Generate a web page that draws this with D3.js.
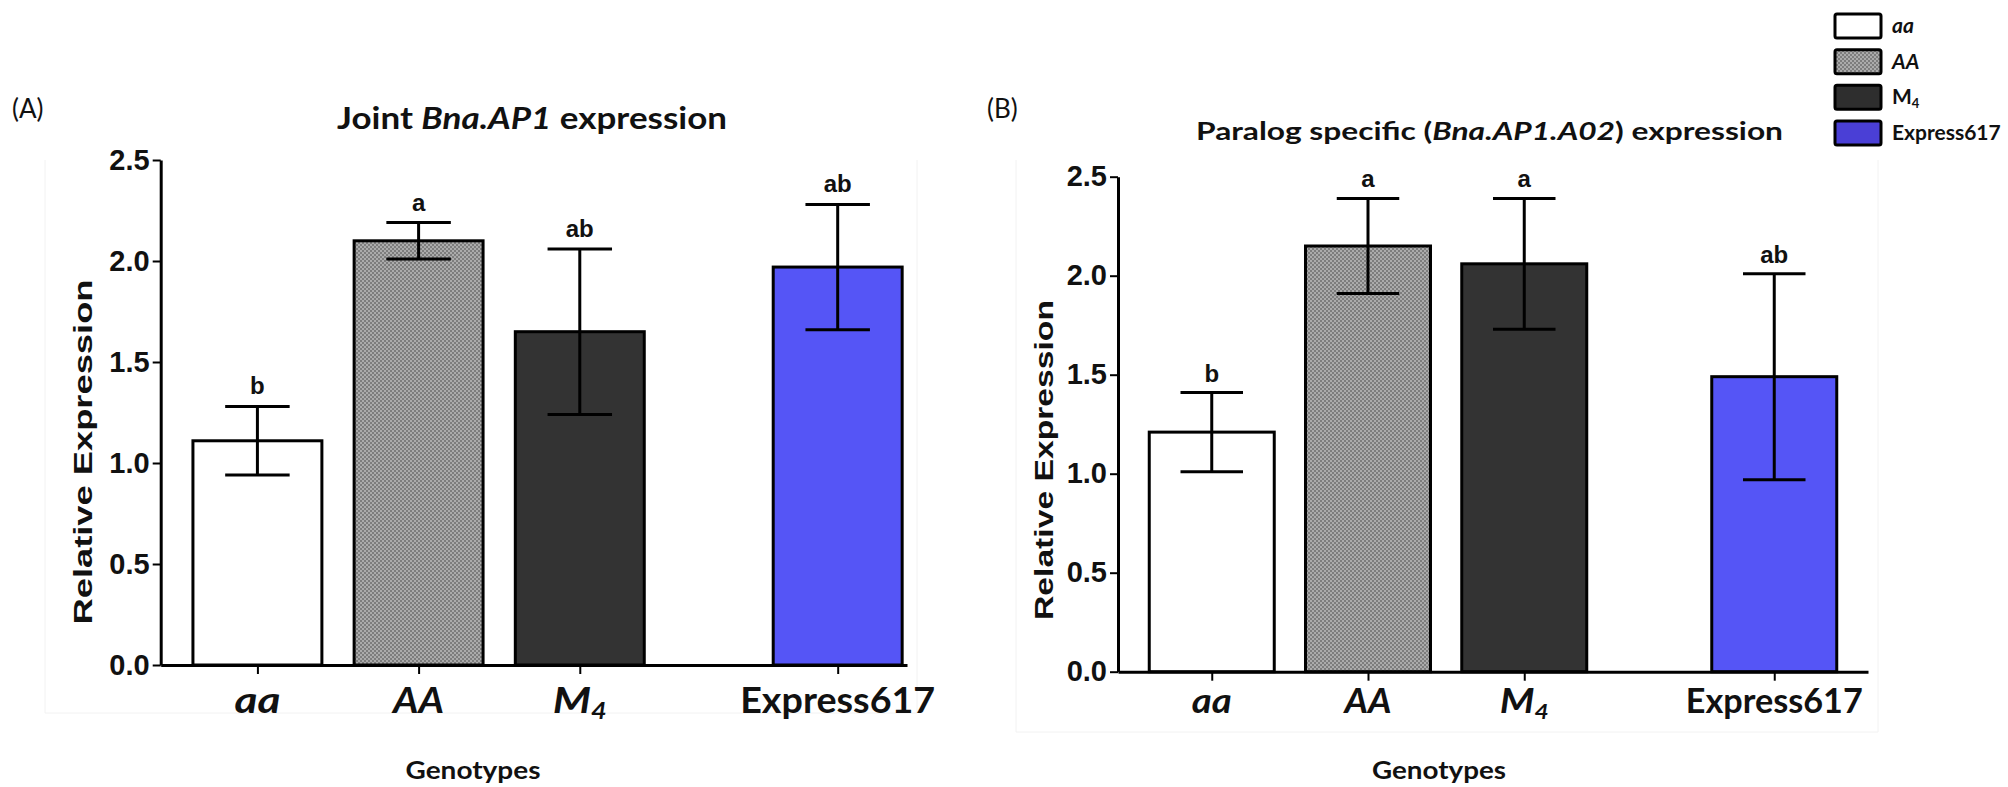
<!DOCTYPE html>
<html><head><meta charset="utf-8">
<script src="https://cdn.jsdelivr.net/npm/d3@7"></script>
<style>body{margin:0;background:#fff}svg{display:block}</style>
</head><body>
<svg id="chart" width="2008" height="787"></svg>
<script>
// ---------------- data ----------------
const categories = ["aa", "AA", "M4", "Express617"];
const jointMean = [1.11, 2.10, 1.65, 1.97];
const jointErr = [0.17, 0.09, 0.41, 0.31];
const jointLetters = ["b", "a", "ab", "ab"];
const paralogMean = [1.21, 2.15, 2.06, 1.49];
const paralogErr = [0.20, 0.24, 0.33, 0.52];
const paralogLetters = ["b", "a", "a", "ab"];
const yTicks = [0, 0.5, 1.0, 1.5, 2.0, 2.5];
const legendLabels = ["aa", "AA", "M4", "Express617"];
const yTitle = "Relative Expression";
const xTitle = "Genotypes";

// ---------------- styling ----------------
const CAL = "Lato, 'Open Sans', sans-serif";
const ARI = "'Liberation Sans', Arial, sans-serif";
const fills = {aa: "#ffffff", AA: "url(#check)", M4: "#333333", Express617: "#5555f6"};
const legendFills = {aa: "#ffffff", AA: "url(#check)", M4: "#2e2e2e", Express617: "#4a3fd6"};

const svg = d3.select("#chart");
const defs = svg.append("defs");
const pat = defs.append("pattern").attr("id", "check").attr("patternUnits", "userSpaceOnUse")
  .attr("width", 4).attr("height", 4);
pat.append("rect").attr("width", 4).attr("height", 4).attr("fill", "#ababab");
pat.append("rect").attr("width", 2).attr("height", 2).attr("fill", "#7d7d7d");
pat.append("rect").attr("x", 2).attr("y", 2).attr("width", 2).attr("height", 2).attr("fill", "#7d7d7d");

// slot of each category along the x axis (last group separated by a gap)
const slotOf = (i) => i < 3 ? i : 3.6;

function catParts(c) {
  if (c === "aa") return [{t: "aa", it: true}];
  if (c === "AA") return [{t: "AA", it: true}];
  if (c === "M4") return [{t: "M", it: true}, {t: "4", it: true, sub: true}];
  return [{t: c, it: false}];
}
function legParts(c) {
  if (c === "aa") return [{t: "aa", it: true}];
  if (c === "AA") return [{t: "AA", it: true}];
  if (c === "M4") return [{t: "M", it: false}, {t: "4", it: false, sub: true}];
  return [{t: c, it: false}];
}
function addParts(textSel, parts, subSize) {
  parts.forEach(p => {
    const ts = textSel.append("tspan").text(p.t).attr("font-style", p.it ? "italic" : "normal");
    if (p.sub) ts.attr("font-size", subSize).attr("baseline-shift", "-28%");
  });
}
function fit(textSel, w) {
  if (w) textSel.attr("textLength", w).attr("lengthAdjust", "spacingAndGlyphs");
}

const panels = [
  {
    tag: "(A)", tagX: 12, tagY: 118,
    title: [{t: "Joint ", it: false}, {t: "Bna.AP1", it: true}, {t: " expression", it: false}],
    titleCx: 532, titleY: 129, titleSize: 30, titleW: 390,
    means: jointMean, errs: jointErr, letters: jointLetters, letterGap: 12,
    xRange: [160.7, 907], xDomain: [-0.6, 4.03], yRange: [665, 160],
    yLabX: 92, yLabCy: 452, yLabLen: 345,
    catY: 713, catSize: 36, catW: [46, 51, 54, 195],
    gCx: 473, gY: 779, gW: 135,
    frame: [45, 917, 713]
  },
  {
    tag: "(B)", tagX: 987, tagY: 118,
    title: [{t: "Paralog specific (", it: false}, {t: "Bna.AP1.A02", it: true}, {t: ") expression", it: false}],
    titleCx: 1489.5, titleY: 140, titleSize: 25, titleW: 587,
    means: paralogMean, errs: paralogErr, letters: paralogLetters, letterGap: 11,
    xRange: [1118, 1868], xDomain: [-0.6, 4.2], yRange: [671.7, 176.7],
    yLabX: 1052.7, yLabCy: 460, yLabLen: 320,
    catY: 713, catSize: 35, catW: [40, 47, 49, 177],
    gCx: 1439, gY: 779, gW: 134,
    frame: [1016, 1878, 732]
  }
];

panels.forEach(P => {
  const g = svg.append("g");
  const [fl, fr, fb] = P.frame;
  g.append("path").attr("d", `M${fl},160V${fb}H${fr}V160`)
    .attr("fill", "none").attr("stroke", "#f2f2f2").attr("stroke-width", 1);

  const x = d3.scaleLinear().domain(P.xDomain).range(P.xRange);
  const y = d3.scaleLinear().domain([0, 2.5]).range(P.yRange);
  const bw = (x(1) - x(0)) * 0.8;

  g.append("text").attr("x", P.tagX).attr("y", P.tagY).text(P.tag)
    .attr("font-family", CAL).attr("font-size", 26).attr("fill", "#111");

  const tt = g.append("text").attr("x", P.titleCx).attr("y", P.titleY).attr("text-anchor", "middle")
    .attr("font-family", CAL).attr("font-weight", "bold").attr("font-size", P.titleSize).attr("fill", "#111");
  addParts(tt, P.title);
  fit(tt, P.titleW);

  const data = categories.map((c, i) => ({c, i, m: P.means[i], e: P.errs[i], l: P.letters[i]}));

  g.selectAll("rect.bar").data(data).join("rect").attr("class", "bar")
    .attr("x", d => x(slotOf(d.i)) - bw / 2).attr("width", bw)
    .attr("y", d => y(d.m)).attr("height", d => y(0) - y(d.m))
    .attr("fill", d => fills[d.c]).attr("stroke", "#000").attr("stroke-width", 3);

  const eb = g.selectAll("g.err").data(data).join("g").attr("class", "err")
    .attr("stroke", "#000").attr("stroke-width", 3);
  eb.append("line").attr("x1", d => x(slotOf(d.i))).attr("x2", d => x(slotOf(d.i)))
    .attr("y1", d => y(d.m - d.e)).attr("y2", d => y(d.m + d.e));
  eb.append("line").attr("x1", d => x(slotOf(d.i)) - bw / 4).attr("x2", d => x(slotOf(d.i)) + bw / 4)
    .attr("y1", d => y(d.m + d.e)).attr("y2", d => y(d.m + d.e));
  eb.append("line").attr("x1", d => x(slotOf(d.i)) - bw / 4).attr("x2", d => x(slotOf(d.i)) + bw / 4)
    .attr("y1", d => y(d.m - d.e)).attr("y2", d => y(d.m - d.e));

  g.selectAll("text.let").data(data).join("text").attr("class", "let")
    .attr("x", d => x(slotOf(d.i))).attr("y", d => y(d.m + d.e) - P.letterGap)
    .attr("text-anchor", "middle").attr("font-family", ARI).attr("font-weight", "bold")
    .attr("font-size", 24).attr("fill", "#111").text(d => d.l);

  const ya = g.append("g").attr("transform", `translate(${P.xRange[0]},0)`)
    .call(d3.axisLeft(y).tickValues(yTicks).tickFormat(d3.format(".1f")).tickSize(8).tickSizeOuter(0).tickPadding(3));
  ya.select(".domain").attr("stroke", "#000").attr("stroke-width", 3);
  ya.selectAll(".tick line").attr("stroke", "#000").attr("stroke-width", 2);
  ya.selectAll(".tick text").attr("font-family", ARI).attr("font-weight", "bold")
    .attr("font-size", 29).attr("fill", "#111");

  const xa = g.append("g").attr("transform", `translate(0,${y(0)})`)
    .call(d3.axisBottom(x).tickValues(categories.map((c, i) => slotOf(i))).tickFormat("").tickSize(9).tickSizeOuter(0));
  xa.select(".domain").attr("stroke", "#000").attr("stroke-width", 3);
  xa.selectAll(".tick line").attr("stroke", "#000").attr("stroke-width", 2);

  data.forEach(d => {
    const t = g.append("text").attr("x", x(slotOf(d.i))).attr("y", P.catY).attr("text-anchor", "middle")
      .attr("font-family", CAL).attr("font-weight", "bold").attr("font-size", P.catSize).attr("fill", "#111");
    addParts(t, catParts(d.c), P.catSize * 0.62);
    fit(t, P.catW[d.i]);
  });

  const yt = g.append("text").attr("transform", `translate(${P.yLabX},${P.yLabCy}) rotate(-90)`)
    .attr("text-anchor", "middle").attr("font-family", ARI).attr("font-weight", "bold")
    .attr("font-size", 25).attr("fill", "#111").text(yTitle);
  fit(yt, P.yLabLen);

  const xt = g.append("text").attr("x", P.gCx).attr("y", P.gY).attr("text-anchor", "middle")
    .attr("font-family", CAL).attr("font-weight", "bold").attr("font-size", 25).attr("fill", "#111").text(xTitle);
  fit(xt, P.gW);
});

// legend
const ly = d3.scalePoint().domain(legendLabels).range([14, 121]);
const lg = svg.append("g");
legendLabels.forEach((c) => {
  lg.append("rect").attr("x", 1835).attr("y", ly(c)).attr("width", 46).attr("height", 24)
    .attr("rx", 2).attr("fill", legendFills[c]).attr("stroke", "#000").attr("stroke-width", 3);
  const t = lg.append("text").attr("x", 1892).attr("y", ly(c) + 19)
    .attr("font-family", CAL).attr("font-weight", "bold").attr("font-size", 21).attr("fill", "#111");
  addParts(t, legParts(c), 13);
});
</script>
</body></html>
